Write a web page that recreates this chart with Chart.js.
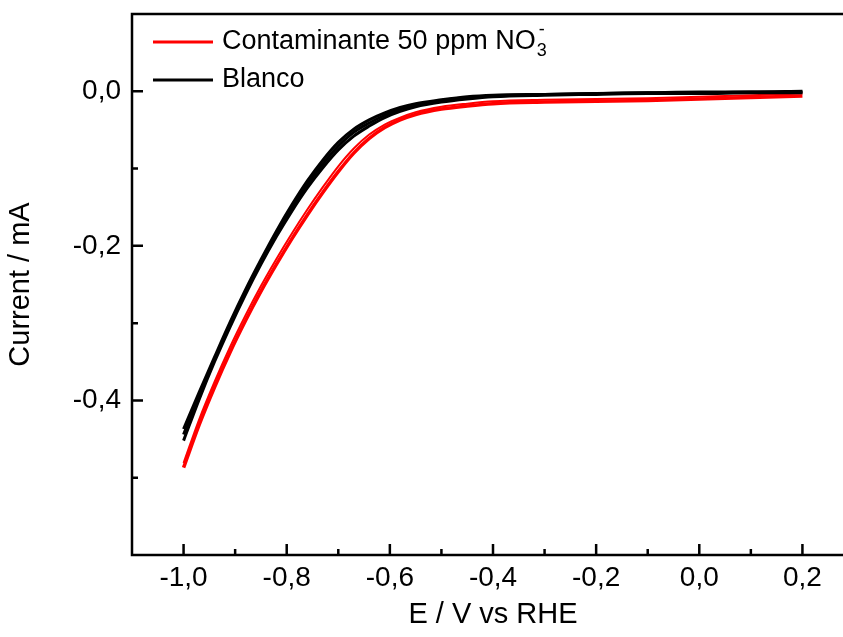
<!DOCTYPE html>
<html>
<head>
<meta charset="utf-8">
<script src="https://cdn.jsdelivr.net/npm/chart.js@4.4.0/dist/chart.umd.min.js"></script>
<style>
html, body { margin: 0; padding: 0; background: #fff; overflow: hidden; }
#wrap { width: 843px; height: 637px; overflow: hidden; }
</style>
</head>
<body>
<div id="wrap"><canvas id="grafico" width="870" height="637"></canvas></div>
<script>
// potencial (V vs RHE)
const potencial = [-1.00, -0.97, -0.94, -0.91, -0.88, -0.85, -0.82, -0.79, -0.76, -0.73, -0.70, -0.67, -0.64, -0.61, -0.58, -0.55, -0.50, -0.45, -0.40, -0.30, -0.20, -0.10, 0.00, 0.10, 0.20];

// corrente (mA) - contaminante, dois ciclos
const contaminanteA = [-0.487, -0.432, -0.383, -0.338, -0.297, -0.259, -0.224, -0.191, -0.160, -0.131, -0.104, -0.080, -0.061, -0.047, -0.037, -0.030, -0.023, -0.019, -0.016, -0.014, -0.013, -0.012, -0.010, -0.008, -0.006];
const contaminanteB = [-0.481, -0.425, -0.376, -0.331, -0.290, -0.252, -0.217, -0.184, -0.153, -0.124, -0.097, -0.074, -0.056, -0.043, -0.034, -0.027, -0.020, -0.016, -0.013, -0.011, -0.010, -0.009, -0.007, -0.005, -0.003];

// corrente (mA) - blanco, tres ciclos
const blancoA = [-0.452, -0.399, -0.350, -0.305, -0.263, -0.224, -0.188, -0.155, -0.125, -0.099, -0.076, -0.058, -0.045, -0.034, -0.026, -0.020, -0.014, -0.010, -0.007, -0.005, -0.004, -0.003, -0.003, -0.002, -0.002];
const blancoB = [-0.444, -0.394, -0.347, -0.302, -0.260, -0.221, -0.184, -0.151, -0.120, -0.094, -0.071, -0.053, -0.041, -0.031, -0.023, -0.018, -0.012, -0.008, -0.006, -0.004, -0.003, -0.002, -0.002, -0.001, -0.001];
const blancoC = [-0.437, -0.390, -0.344, -0.299, -0.257, -0.218, -0.181, -0.147, -0.116, -0.089, -0.066, -0.049, -0.037, -0.028, -0.021, -0.016, -0.011, -0.007, -0.005, -0.004, -0.003, -0.002, -0.001, -0.001, 0.000];

const xMaiores = [-1.0, -0.8, -0.6, -0.4, -0.2, 0.0, 0.2];
const xMenores = [-0.9, -0.7, -0.5, -0.3, -0.1, 0.1];
const yMaiores = [-0.4, -0.2, 0.0];
const yMenores = [-0.5, -0.3, -0.1];

const legendas = [
	{ texto: 'Contaminante 50 ppm NO', sub: '3', sup: '-', cor: '#ff0000' },
	{ texto: 'Blanco', cor: '#000000' }
];

const fonte = "'Liberation Sans', Arial, sans-serif";
const virgula = v => v.toFixed(1).replace('.', ',').replace('-0,0', '0,0');

function serie(ys, cor, label, largura) {
	return {
		label: label,
		data: potencial.map((x, i) => ({ x: x, y: ys[i] })),
		borderColor: cor,
		borderWidth: largura,
		pointRadius: 0,
		fill: false,
		cubicInterpolationMode: 'monotone'
	};
}

const molduraTicks = {
	id: 'molduraTicks',
	afterDraw(chart) {
		const { ctx, chartArea: a, scales: { x, y } } = chart;
		ctx.save();
		ctx.strokeStyle = '#000';
		ctx.lineWidth = 2.5;
		ctx.strokeRect(a.left, a.top, a.right - a.left, a.bottom - a.top);
		ctx.beginPath();
		xMaiores.forEach(v => { const p = x.getPixelForValue(v); ctx.moveTo(p, a.bottom); ctx.lineTo(p, a.bottom - 11); });
		xMenores.forEach(v => { const p = x.getPixelForValue(v); ctx.moveTo(p, a.bottom); ctx.lineTo(p, a.bottom - 6); });
		yMaiores.forEach(v => { const p = y.getPixelForValue(v); ctx.moveTo(a.left, p); ctx.lineTo(a.left + 11, p); });
		yMenores.forEach(v => { const p = y.getPixelForValue(v); ctx.moveTo(a.left, p); ctx.lineTo(a.left + 6, p); });
		ctx.stroke();

		// legenda
		legendas.forEach((l, i) => {
			const yy = a.top + 28 + i * 38;
			ctx.strokeStyle = l.cor;
			ctx.lineWidth = 3;
			ctx.beginPath();
			ctx.moveTo(a.left + 21, yy);
			ctx.lineTo(a.left + 81, yy);
			ctx.stroke();
			ctx.fillStyle = '#000';
			ctx.textBaseline = 'middle';
			ctx.font = '27px ' + fonte;
			const tx = a.left + 90;
			ctx.fillText(l.texto, tx, yy);
			if (l.sub) {
				const w = ctx.measureText(l.texto).width;
				ctx.font = '18px ' + fonte;
				ctx.fillText(l.sub, tx + w + 1, yy + 9);
				ctx.fillText(l.sup, tx + w + 3, yy - 12);
			}
		});
		ctx.restore();
	}
};

const ctx = document.getElementById('grafico').getContext('2d');
new Chart(ctx, {
	type: 'line',
	data: {
		datasets: [
			serie(blancoA, '#000000', 'Blanco', 3),
			serie(blancoB, '#000000', 'Blanco 2', 3),
			serie(blancoC, '#000000', 'Blanco 3', 3),
			serie(contaminanteA, '#ff0000', 'Contaminante 50 ppm NO₃⁻', 3.5),
			serie(contaminanteB, '#ff0000', 'Contaminante 2', 2)
		]
	},
	options: {
		responsive: false,
		animation: false,
		layout: { padding: { top: 14, right: 16, left: 0, bottom: 0 } },
		plugins: { legend: { display: false }, tooltip: { enabled: false } },
		scales: {
			x: {
				type: 'linear',
				min: -1.1,
				max: 0.3,
				grid: { display: false, drawTicks: false },
				border: { display: false },
				afterBuildTicks: s => { s.ticks = xMaiores.map(v => ({ value: v })); },
				afterFit: s => { s.height = 82; s.paddingLeft = 0; s.paddingRight = 0; },
				ticks: { color: '#000', font: { family: fonte, size: 28 }, padding: 6, maxRotation: 0, callback: v => virgula(v) },
				title: { display: true, text: 'E / V vs RHE', color: '#000', font: { family: fonte, size: 29 }, padding: { top: 0, bottom: 5 } }
			},
			y: {
				min: -0.6,
				max: 0.1,
				grid: { display: false, drawTicks: false },
				border: { display: false },
				afterBuildTicks: s => { s.ticks = yMaiores.map(v => ({ value: v })); },
				afterFit: s => { s.width = 132; s.paddingTop = 0; s.paddingBottom = 0; },
				ticks: { color: '#000', font: { family: fonte, size: 28 }, padding: 11, callback: v => virgula(v) },
				title: { display: true, text: 'Current / mA', color: '#000', font: { family: fonte, size: 29 }, padding: { top: 4, bottom: 0 } }
			}
		}
	},
	plugins: [molduraTicks]
});
</script>
</body>
</html>
